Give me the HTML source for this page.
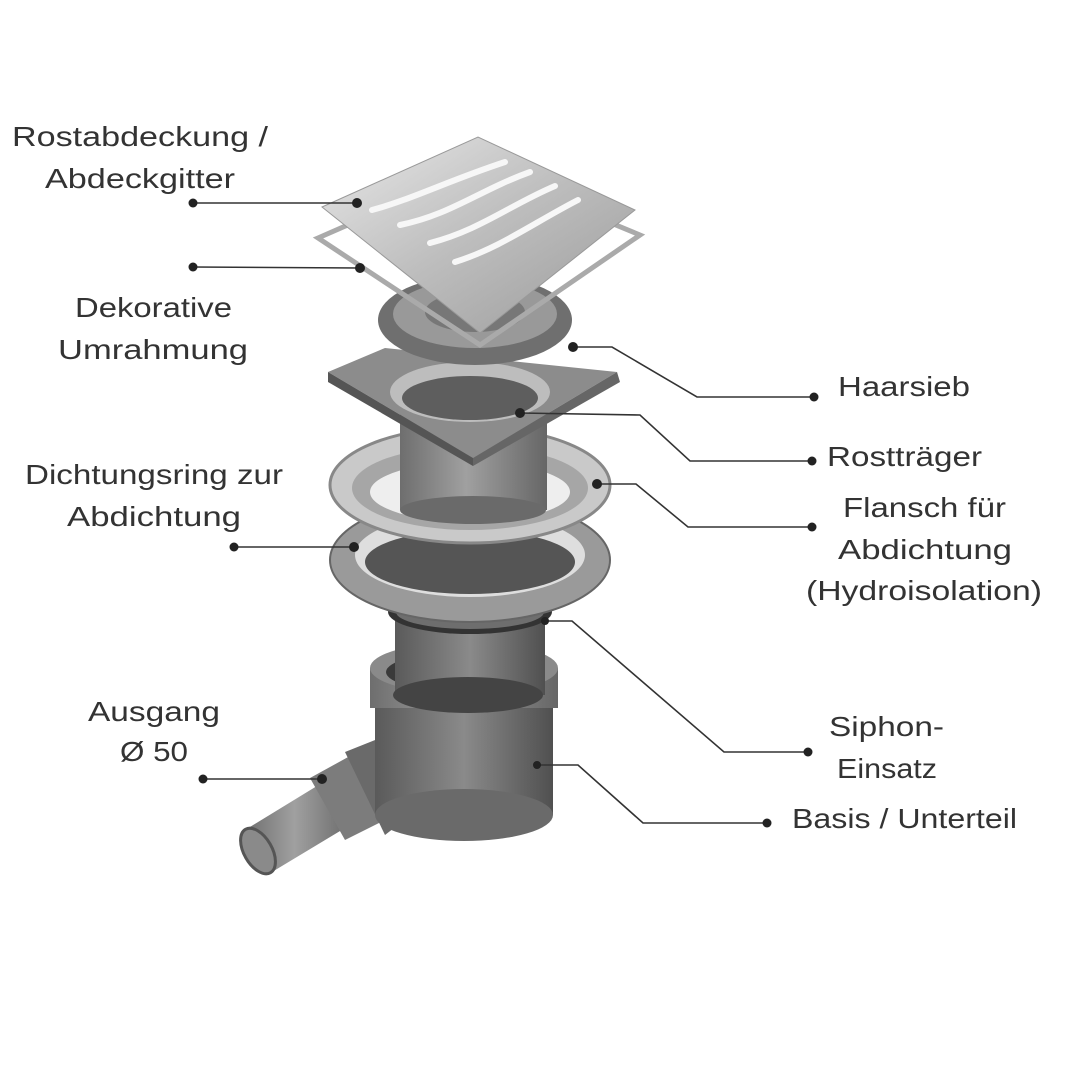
<!DOCTYPE html>
<html><head><meta charset="utf-8"><style>
html,body{margin:0;padding:0;background:#fff;}
svg{display:block;}
text{font-family:"Liberation Sans",sans-serif;font-size:28px;fill:#333;font-weight:normal;}
</style></head><body>
<svg width="1080" height="1080" viewBox="0 0 1080 1080" xmlns="http://www.w3.org/2000/svg">
<defs>
<linearGradient id="steel" x1="0" y1="0" x2="1" y2="1"><stop offset="0" stop-color="#e8e8e8"/><stop offset="0.5" stop-color="#bdbdbd"/><stop offset="1" stop-color="#9a9a9a"/></linearGradient>
<linearGradient id="dark" x1="0" y1="0" x2="1" y2="0"><stop offset="0" stop-color="#5a5a5a"/><stop offset="0.5" stop-color="#8a8a8a"/><stop offset="1" stop-color="#505050"/></linearGradient>
<linearGradient id="mid" x1="0" y1="0" x2="1" y2="0"><stop offset="0" stop-color="#6e6e6e"/><stop offset="0.45" stop-color="#a0a0a0"/><stop offset="1" stop-color="#666"/></linearGradient>
</defs>
<g>
<polygon points="245,830 330,778 355,822 272,872" fill="url(#mid)"/>
<ellipse cx="258" cy="851" rx="14" ry="25" transform="rotate(-30 258 851)" fill="#8a8a8a" stroke="#555" stroke-width="3"/>
<polygon points="310,778 370,745 405,810 345,840" fill="#7c7c7c"/>
<polygon points="345,752 400,730 430,800 385,835" fill="#6a6a6a"/>
</g>
<rect x="375" y="690" width="178" height="125" fill="url(#dark)"/>
<ellipse cx="464" cy="815" rx="89" ry="26" fill="#6a6a6a"/>
<rect x="370" y="668" width="188" height="40" fill="url(#mid)"/>
<ellipse cx="464" cy="668" rx="94" ry="26" fill="#8a8a8a"/>
<ellipse cx="464" cy="672" rx="78" ry="20" fill="#3a3a3a"/>
<rect x="395" y="615" width="150" height="80" fill="url(#dark)"/>
<ellipse cx="468" cy="695" rx="75" ry="18" fill="#444"/>
<ellipse cx="470" cy="612" rx="82" ry="22" fill="#333"/>
<ellipse cx="470" cy="612" rx="74" ry="17" fill="#6e6e6e"/>
<ellipse cx="470" cy="560" rx="140" ry="62" fill="#9a9a9a" stroke="#666" stroke-width="2"/>
<ellipse cx="470" cy="555" rx="115" ry="42" fill="#dedede"/>
<ellipse cx="470" cy="562" rx="105" ry="32" fill="#555"/>
<ellipse cx="470" cy="485" rx="140" ry="58" fill="#c9c9c9" stroke="#888" stroke-width="3"/>
<ellipse cx="470" cy="488" rx="118" ry="42" fill="#a6a6a6"/>
<ellipse cx="470" cy="492" rx="100" ry="30" fill="#eee"/>
<rect x="400" y="395" width="147" height="115" fill="url(#mid)"/>
<ellipse cx="473" cy="510" rx="73" ry="14" fill="#6a6a6a"/>
<polygon points="328,372 385,348 617,372 473,458" fill="#8c8c8c"/>
<polygon points="328,372 473,458 473,466 328,382" fill="#555"/>
<polygon points="473,458 617,372 620,382 473,466" fill="#666"/>
<ellipse cx="470" cy="392" rx="80" ry="30" fill="#bdbdbd"/>
<ellipse cx="470" cy="398" rx="68" ry="22" fill="#5e5e5e"/>
<ellipse cx="475" cy="320" rx="97" ry="45" fill="#6f6f6f"/>
<ellipse cx="475" cy="314" rx="82" ry="34" fill="#999"/>
<ellipse cx="475" cy="312" rx="50" ry="20" fill="#777"/>
<polygon points="318,238 478,168 640,235 480,345" fill="none" stroke="#aaa" stroke-width="5"/>
<polygon points="322,207 478,137 635,210 480,333" fill="url(#steel)" stroke="#999" stroke-width="1"/>
<g fill="none" stroke="#f7f7f7" stroke-width="6" stroke-linecap="round">
<path d="M372,210 C410,200 450,180 505,162"/>
<path d="M400,225 C450,215 480,190 530,172"/>
<path d="M430,243 C480,230 510,205 555,186"/>
<path d="M455,262 C500,248 535,222 578,200"/>
</g>
<g stroke="#333" stroke-width="1.6" fill="none">
<polyline points="193,203 358,203"/>
<polyline points="193,267 360,268"/>
<polyline points="573,347 612,347 697,397 815,397"/>
<polyline points="520,413 640,415 690,461 812,461"/>
<polyline points="597,484 636,484 688,527 812,527"/>
<polyline points="234,547 355,547"/>
<polyline points="545,621 572,621 724,752 808,752"/>
<polyline points="537,765 578,765 643,823 767,823"/>
<polyline points="203,779 322,779"/>
</g>
<g fill="#222">
<circle cx="193" cy="203" r="4.5"/><circle cx="357" cy="203" r="5"/>
<circle cx="193" cy="267" r="4.5"/><circle cx="360" cy="268" r="5"/>
<circle cx="573" cy="347" r="5"/><circle cx="814" cy="397" r="4.5"/>
<circle cx="520" cy="413" r="5"/><circle cx="812" cy="461" r="4.5"/>
<circle cx="597" cy="484" r="5"/><circle cx="812" cy="527" r="4.5"/>
<circle cx="234" cy="547" r="4.5"/><circle cx="354" cy="547" r="5"/>
<circle cx="545" cy="621" r="4"/><circle cx="808" cy="752" r="4.5"/>
<circle cx="537" cy="765" r="4"/><circle cx="767" cy="823" r="4.5"/>
<circle cx="203" cy="779" r="4.5"/><circle cx="322" cy="779" r="5"/>
</g>
<text x="12" y="146" textLength="256" lengthAdjust="spacingAndGlyphs">Rostabdeckung /</text>
<text x="45" y="188" textLength="190" lengthAdjust="spacingAndGlyphs">Abdeckgitter</text>
<text x="75" y="317" textLength="157" lengthAdjust="spacingAndGlyphs">Dekorative</text>
<text x="58" y="359" textLength="190" lengthAdjust="spacingAndGlyphs">Umrahmung</text>
<text x="25" y="484" textLength="258" lengthAdjust="spacingAndGlyphs">Dichtungsring zur</text>
<text x="67" y="526" textLength="174" lengthAdjust="spacingAndGlyphs">Abdichtung</text>
<text x="88" y="721" textLength="132" lengthAdjust="spacingAndGlyphs">Ausgang</text>
<text x="120" y="761" textLength="68" lengthAdjust="spacingAndGlyphs">Ø 50</text>
<text x="838" y="396" textLength="132" lengthAdjust="spacingAndGlyphs">Haarsieb</text>
<text x="827" y="466" textLength="155" lengthAdjust="spacingAndGlyphs">Rostträger</text>
<text x="843" y="517" textLength="163" lengthAdjust="spacingAndGlyphs">Flansch für</text>
<text x="838" y="559" textLength="174" lengthAdjust="spacingAndGlyphs">Abdichtung</text>
<text x="806" y="600" textLength="236" lengthAdjust="spacingAndGlyphs">(Hydroisolation)</text>
<text x="829" y="736" textLength="115" lengthAdjust="spacingAndGlyphs">Siphon-</text>
<text x="837" y="778" textLength="100" lengthAdjust="spacingAndGlyphs">Einsatz</text>
<text x="792" y="828" textLength="225" lengthAdjust="spacingAndGlyphs">Basis / Unterteil</text>
</svg>
</body></html>
